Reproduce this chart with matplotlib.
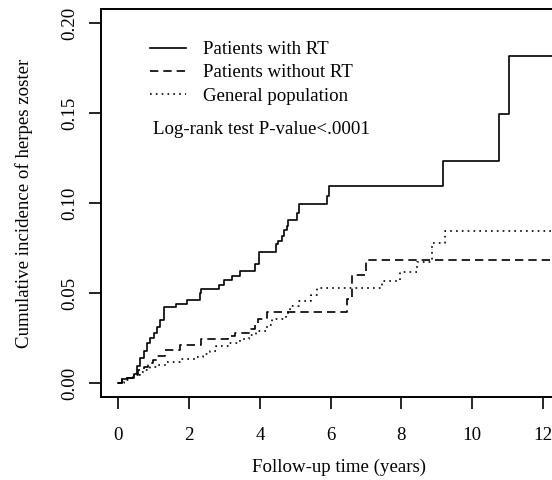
import matplotlib
matplotlib.use("Agg")
import matplotlib.pyplot as plt

# cumulative incidence step data (years, cumulative incidence)
rt_time = [0.00, 0.10, 0.25, 0.44, 0.53, 0.62, 0.72, 0.81, 0.90, 1.00, 1.09, 1.19,
           1.28, 1.30, 1.62, 1.93, 2.30, 2.33, 2.85, 3.00, 3.22, 3.44, 3.87, 3.98,
           4.45, 4.50, 4.62, 4.67, 4.76, 4.80, 5.04, 5.12, 5.89, 5.96, 9.17, 10.76,
           11.05, 13.0]
rt_cuminc = [0.000, 0.002, 0.003, 0.005, 0.0095, 0.014, 0.018, 0.022, 0.025, 0.028,
             0.031, 0.035, 0.0405, 0.042, 0.044, 0.046, 0.050, 0.0522, 0.0545, 0.057,
             0.0595, 0.0625, 0.066, 0.0726, 0.0775, 0.079, 0.0815, 0.085, 0.0875,
             0.0905, 0.0945, 0.0994, 0.104, 0.1093, 0.1235, 0.1494, 0.1818, 0.1818]

nort_time = [0.00, 0.10, 0.14, 0.40, 0.55, 0.72, 0.85, 0.99, 1.10, 1.32, 1.75, 2.35,
             3.10, 3.30, 3.75, 3.85, 3.95, 4.19, 6.46, 6.60, 6.99, 13.0]
nort_cuminc = [0.000, 0.002, 0.003, 0.0045, 0.007, 0.009, 0.011, 0.013, 0.015, 0.0185,
               0.021, 0.0245, 0.026, 0.028, 0.030, 0.033, 0.0355, 0.0396, 0.0467,
               0.0602, 0.0683, 0.0683]

gen_time = [0.00, 0.15, 0.30, 0.45, 0.60, 0.75, 0.90, 1.10, 1.37, 1.75, 2.22, 2.40,
            2.60, 2.75, 3.10, 3.45, 3.70, 3.90, 4.20, 4.35, 4.75, 4.85, 5.10, 5.45,
            5.61, 7.45, 7.96, 8.43, 8.88, 9.24, 13.0]
gen_cuminc = [0.000, 0.0015, 0.003, 0.0045, 0.006, 0.0075, 0.0087, 0.010, 0.0118,
              0.0133, 0.0145, 0.016, 0.018, 0.0205, 0.0222, 0.0244, 0.0265, 0.029,
              0.032, 0.0356, 0.039, 0.043, 0.0457, 0.049, 0.0528, 0.0568, 0.0615,
              0.067, 0.0781, 0.0843, 0.0843]

x_ticks = [0, 2, 4, 6, 8, 10, 12]
y_ticks = [0.00, 0.05, 0.10, 0.15, 0.20]

plt.rcParams['font.family'] = ['Liberation Serif', 'DejaVu Serif']
plt.rcParams['font.size'] = 13.6

fig = plt.figure(figsize=(5.52, 4.8), dpi=100)
ax = fig.add_axes([0.1824, 0.1719, 0.865, 0.81])

ax.step(rt_time, rt_cuminc, where='post', color='black', lw=1.2,
        label='Patients with RT')
ax.step(nort_time, nort_cuminc, where='post', color='black', lw=1.2,
        linestyle=(0, (5, 3)), label='Patients without RT')
ax.step(gen_time, gen_cuminc, where='post', color='black', lw=1.2,
        linestyle=(0, (1, 2.5)), label='General population')

ax.set_xlim(-0.5, 13.0)
ax.set_ylim(-0.008, 0.208)
ax.set_xticks(x_ticks)
ax.set_xticklabels([str(t) for t in x_ticks])
ax.set_yticks(y_ticks)
ax.set_yticklabels(['%.2f' % t for t in y_ticks], rotation=90, va='center')
ax.tick_params(axis='both', direction='out', length=8.5, width=1.2, color='black')
ax.tick_params(axis='x', pad=12.5)
ax.tick_params(axis='y', pad=8)
for s in ax.spines.values():
    s.set_linewidth(1.4)

ax.set_xlabel('Follow-up time (years)', labelpad=11)
ax.set_ylabel('Cumulative incidence of herpes zoster', labelpad=20)

ax.legend(loc='upper left', bbox_to_anchor=(150 / 552, 1 - 41 / 480),
          bbox_transform=fig.transFigure, frameon=False, borderpad=0,
          borderaxespad=0, handlelength=1.9, handletextpad=0.9, labelspacing=0.32)
fig.text(153 / 552, 1 - 129 / 480, 'Log-rank test P-value<.0001',
         ha='left', va='center')

fig.savefig('out.png', dpi=100)
